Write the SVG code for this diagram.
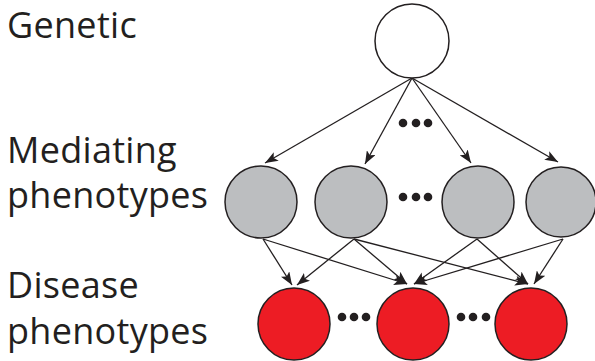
<svg xmlns="http://www.w3.org/2000/svg" width="595" height="361" viewBox="0 0 595 361">
<style>
.lbl{font-family:"Open Sans","Noto Sans","Liberation Sans",sans-serif;font-size:36px;letter-spacing:0.3px;fill:#231f20}
.node{stroke:#231f20;stroke-width:1.5}
.gen{fill:#ffffff}
.med{fill:#bcbec0}
.dis{fill:#ed1c24}
.edge{stroke:#231f20;stroke-width:1.3;fill:none;marker-end:url(#ah)}
.dot{fill:#231f20}
</style>
<defs>
<marker id="ah" viewBox="0 0 13 10" refX="13" refY="5" markerWidth="13" markerHeight="10" markerUnits="userSpaceOnUse" orient="auto">
<path d="M0,0 L13,5 L0,10 L3,5 z" fill="#231f20"/>
</marker>
</defs>
<g id="labels">
<text class="lbl" x="7" y="38">Genetic</text>
<text class="lbl" x="7" y="163">Mediating</text>
<text class="lbl" x="7" y="208">phenotypes</text>
<text class="lbl" x="7" y="298">Disease</text>
<text class="lbl" x="7" y="344">phenotypes</text>
</g>
<g id="connectors">
<line class="edge" x1="412" y1="78" x2="265" y2="163"/>
<line class="edge" x1="412" y1="78" x2="365" y2="164"/>
<line class="edge" x1="412" y1="78" x2="471" y2="163"/>
<line class="edge" x1="412" y1="78" x2="558" y2="162"/>
<line class="edge" x1="263" y1="239" x2="292" y2="285"/>
<line class="edge" x1="263" y1="239" x2="407" y2="284"/>
<line class="edge" x1="354" y1="239" x2="297" y2="285"/>
<line class="edge" x1="354" y1="239" x2="407" y2="284"/>
<line class="edge" x1="354" y1="239" x2="528" y2="284"/>
<line class="edge" x1="477" y1="239" x2="414" y2="284"/>
<line class="edge" x1="477" y1="239" x2="528" y2="284"/>
<line class="edge" x1="563" y1="239" x2="414" y2="284"/>
<line class="edge" x1="563" y1="239" x2="534" y2="284"/>
</g>
<g id="genetic"><circle class="node gen" cx="412" cy="41" r="37"/></g>
<g id="med1"><circle class="node med" cx="261" cy="202" r="36"/></g>
<g id="med2"><circle class="node med" cx="351" cy="202" r="36"/></g>
<g id="med3"><circle class="node med" cx="478" cy="202" r="36"/></g>
<g id="med4"><circle class="node med" cx="561" cy="202" r="35"/></g>
<g id="dis1"><circle class="node dis" cx="294" cy="324" r="36"/></g>
<g id="dis2"><circle class="node dis" cx="413" cy="324" r="36"/></g>
<g id="dis3"><circle class="node dis" cx="531" cy="324" r="36"/></g>
<g id="ellipses">
<circle class="dot" cx="403" cy="123" r="4.3"/>
<circle class="dot" cx="416" cy="123" r="4.3"/>
<circle class="dot" cx="428" cy="123" r="4.3"/>
<circle class="dot" cx="403" cy="197" r="4.3"/>
<circle class="dot" cx="416" cy="197" r="4.3"/>
<circle class="dot" cx="428" cy="197" r="4.3"/>
<circle class="dot" cx="342" cy="317" r="4.3"/>
<circle class="dot" cx="354" cy="317" r="4.3"/>
<circle class="dot" cx="366" cy="317" r="4.3"/>
<circle class="dot" cx="461" cy="317" r="4.3"/>
<circle class="dot" cx="473" cy="317" r="4.3"/>
<circle class="dot" cx="486" cy="317" r="4.3"/>
</g>
</svg>
